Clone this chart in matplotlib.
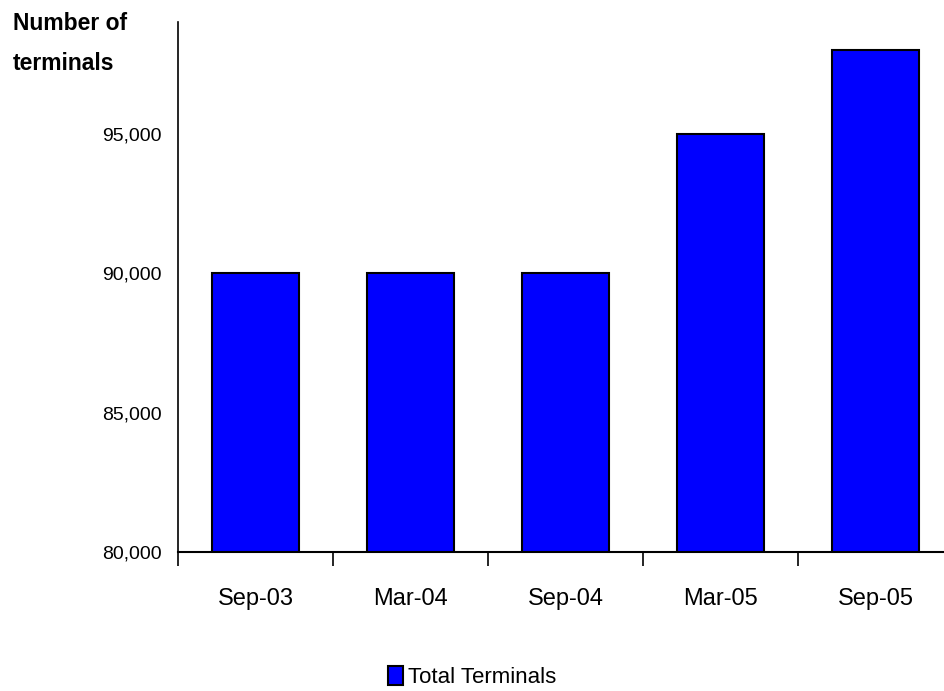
import matplotlib
matplotlib.use("Agg")
import matplotlib.pyplot as plt
from matplotlib.ticker import FuncFormatter

plt.rcParams['font.family'] = ['Liberation Sans', 'DejaVu Sans']

periods = ['Sep-03', 'Mar-04', 'Sep-04', 'Mar-05', 'Sep-05']
terminals = [90000, 90000, 90000, 95000, 98000]
yticks = [80000, 85000, 90000, 95000]

fig = plt.figure(figsize=(9.44, 6.91), dpi=100)
ax = fig.add_axes([178 / 944, 139 / 691, 775 / 944, 530 / 691])

x = range(len(periods))
bars = ax.bar(x, terminals, width=0.56, color='#0000ff', edgecolor='black',
              linewidth=1.5, label='Total Terminals')

ax.set_xlim(-0.5, len(periods) - 0.5)
ax.set_ylim(80000, 99000)
ax.set_yticks(yticks)
ax.yaxis.set_major_formatter(FuncFormatter(lambda v, p: f'{int(v):,}'))
ax.tick_params(axis='y', length=0, pad=12, labelsize=14)

# category ticks sit between bars, labels centred under each bar
ax.set_xticks([i - 0.5 for i in range(len(periods) + 1)])
ax.set_xticklabels([])
ax.set_xticks(list(x), minor=True)
ax.set_xticklabels(periods, minor=True, fontsize=17)
ax.tick_params(axis='x', which='major', direction='out', length=10, width=1.2)
ax.tick_params(axis='x', which='minor', length=0, pad=26)

for side in ['top', 'right']:
    ax.spines[side].set_visible(False)
ax.spines['left'].set_linewidth(1.2)
ax.spines['bottom'].set_linewidth(1.5)

fig.text(13 / 944, 1 - 12 / 691, 'Number of\nterminals', fontsize=16.5,
         fontweight='bold', va='top', ha='left', linespacing=1.95)

fig.legend(handles=[bars], loc='center', bbox_to_anchor=(472 / 944, 1 - 677 / 691),
           frameon=False, fontsize=16, handlelength=0.7, handleheight=0.9,
           handletextpad=0.2)

fig.savefig('out.png', dpi=100)
